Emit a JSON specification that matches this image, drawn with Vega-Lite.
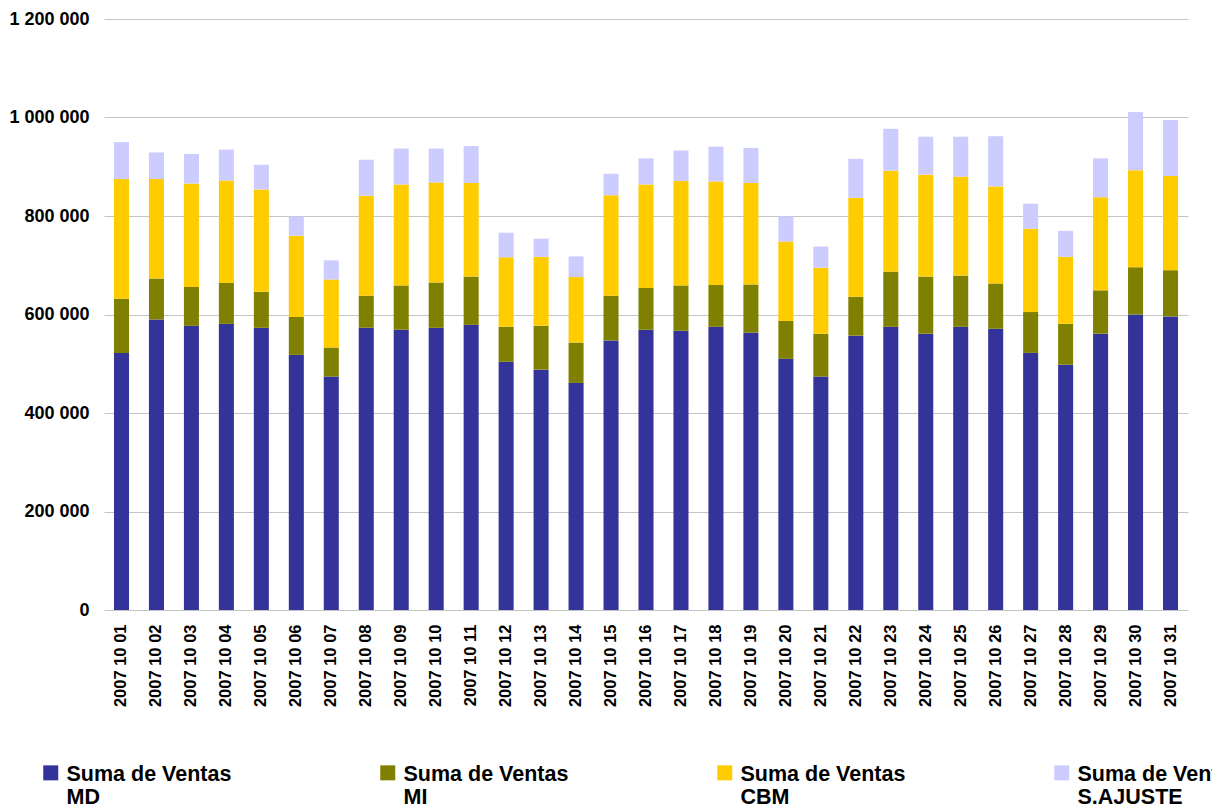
{
  "$schema": "https://vega.github.io/schema/vega-lite/v6.json",
  "width": 1084,
  "height": 591,
  "autosize": {"type": "none"},
  "padding": {"left": 104, "top": 19, "right": 24, "bottom": 202},
  "background": "white",
  "config": {"view": {"stroke": null}, "font": "Liberation Sans"},
  "data": {
    "values": [
      {"fecha": "2007 10 01", "serie": "MD", "ventas": 522000}, {"fecha": "2007 10 01", "serie": "MI", "ventas": 110000}, {"fecha": "2007 10 01", "serie": "CBM", "ventas": 243000}, {"fecha": "2007 10 01", "serie": "S.AJUSTE", "ventas": 75000},
      {"fecha": "2007 10 02", "serie": "MD", "ventas": 590000}, {"fecha": "2007 10 02", "serie": "MI", "ventas": 83000}, {"fecha": "2007 10 02", "serie": "CBM", "ventas": 202000}, {"fecha": "2007 10 02", "serie": "S.AJUSTE", "ventas": 54000},
      {"fecha": "2007 10 03", "serie": "MD", "ventas": 577000}, {"fecha": "2007 10 03", "serie": "MI", "ventas": 79000}, {"fecha": "2007 10 03", "serie": "CBM", "ventas": 210000}, {"fecha": "2007 10 03", "serie": "S.AJUSTE", "ventas": 60000},
      {"fecha": "2007 10 04", "serie": "MD", "ventas": 581000}, {"fecha": "2007 10 04", "serie": "MI", "ventas": 83000}, {"fecha": "2007 10 04", "serie": "CBM", "ventas": 208000}, {"fecha": "2007 10 04", "serie": "S.AJUSTE", "ventas": 63000},
      {"fecha": "2007 10 05", "serie": "MD", "ventas": 573000}, {"fecha": "2007 10 05", "serie": "MI", "ventas": 73000}, {"fecha": "2007 10 05", "serie": "CBM", "ventas": 208000}, {"fecha": "2007 10 05", "serie": "S.AJUSTE", "ventas": 50000},
      {"fecha": "2007 10 06", "serie": "MD", "ventas": 518000}, {"fecha": "2007 10 06", "serie": "MI", "ventas": 77000}, {"fecha": "2007 10 06", "serie": "CBM", "ventas": 165000}, {"fecha": "2007 10 06", "serie": "S.AJUSTE", "ventas": 39000},
      {"fecha": "2007 10 07", "serie": "MD", "ventas": 474000}, {"fecha": "2007 10 07", "serie": "MI", "ventas": 59000}, {"fecha": "2007 10 07", "serie": "CBM", "ventas": 138000}, {"fecha": "2007 10 07", "serie": "S.AJUSTE", "ventas": 39000},
      {"fecha": "2007 10 08", "serie": "MD", "ventas": 573000}, {"fecha": "2007 10 08", "serie": "MI", "ventas": 65000}, {"fecha": "2007 10 08", "serie": "CBM", "ventas": 203000}, {"fecha": "2007 10 08", "serie": "S.AJUSTE", "ventas": 73000},
      {"fecha": "2007 10 09", "serie": "MD", "ventas": 569000}, {"fecha": "2007 10 09", "serie": "MI", "ventas": 90000}, {"fecha": "2007 10 09", "serie": "CBM", "ventas": 205000}, {"fecha": "2007 10 09", "serie": "S.AJUSTE", "ventas": 73000},
      {"fecha": "2007 10 10", "serie": "MD", "ventas": 573000}, {"fecha": "2007 10 10", "serie": "MI", "ventas": 92000}, {"fecha": "2007 10 10", "serie": "CBM", "ventas": 203000}, {"fecha": "2007 10 10", "serie": "S.AJUSTE", "ventas": 69000},
      {"fecha": "2007 10 11", "serie": "MD", "ventas": 579000}, {"fecha": "2007 10 11", "serie": "MI", "ventas": 98000}, {"fecha": "2007 10 11", "serie": "CBM", "ventas": 190000}, {"fecha": "2007 10 11", "serie": "S.AJUSTE", "ventas": 75000},
      {"fecha": "2007 10 12", "serie": "MD", "ventas": 504000}, {"fecha": "2007 10 12", "serie": "MI", "ventas": 71000}, {"fecha": "2007 10 12", "serie": "CBM", "ventas": 141000}, {"fecha": "2007 10 12", "serie": "S.AJUSTE", "ventas": 50000},
      {"fecha": "2007 10 13", "serie": "MD", "ventas": 488000}, {"fecha": "2007 10 13", "serie": "MI", "ventas": 89000}, {"fecha": "2007 10 13", "serie": "CBM", "ventas": 140000}, {"fecha": "2007 10 13", "serie": "S.AJUSTE", "ventas": 37000},
      {"fecha": "2007 10 14", "serie": "MD", "ventas": 461000}, {"fecha": "2007 10 14", "serie": "MI", "ventas": 82000}, {"fecha": "2007 10 14", "serie": "CBM", "ventas": 133000}, {"fecha": "2007 10 14", "serie": "S.AJUSTE", "ventas": 42000},
      {"fecha": "2007 10 15", "serie": "MD", "ventas": 547000}, {"fecha": "2007 10 15", "serie": "MI", "ventas": 91000}, {"fecha": "2007 10 15", "serie": "CBM", "ventas": 204000}, {"fecha": "2007 10 15", "serie": "S.AJUSTE", "ventas": 44000},
      {"fecha": "2007 10 16", "serie": "MD", "ventas": 569000}, {"fecha": "2007 10 16", "serie": "MI", "ventas": 85000}, {"fecha": "2007 10 16", "serie": "CBM", "ventas": 210000}, {"fecha": "2007 10 16", "serie": "S.AJUSTE", "ventas": 53000},
      {"fecha": "2007 10 17", "serie": "MD", "ventas": 567000}, {"fecha": "2007 10 17", "serie": "MI", "ventas": 92000}, {"fecha": "2007 10 17", "serie": "CBM", "ventas": 212000}, {"fecha": "2007 10 17", "serie": "S.AJUSTE", "ventas": 62000},
      {"fecha": "2007 10 18", "serie": "MD", "ventas": 575000}, {"fecha": "2007 10 18", "serie": "MI", "ventas": 85000}, {"fecha": "2007 10 18", "serie": "CBM", "ventas": 210000}, {"fecha": "2007 10 18", "serie": "S.AJUSTE", "ventas": 71000},
      {"fecha": "2007 10 19", "serie": "MD", "ventas": 563000}, {"fecha": "2007 10 19", "serie": "MI", "ventas": 98000}, {"fecha": "2007 10 19", "serie": "CBM", "ventas": 206000}, {"fecha": "2007 10 19", "serie": "S.AJUSTE", "ventas": 71000},
      {"fecha": "2007 10 20", "serie": "MD", "ventas": 510000}, {"fecha": "2007 10 20", "serie": "MI", "ventas": 77000}, {"fecha": "2007 10 20", "serie": "CBM", "ventas": 161000}, {"fecha": "2007 10 20", "serie": "S.AJUSTE", "ventas": 51000},
      {"fecha": "2007 10 21", "serie": "MD", "ventas": 474000}, {"fecha": "2007 10 21", "serie": "MI", "ventas": 87000}, {"fecha": "2007 10 21", "serie": "CBM", "ventas": 134000}, {"fecha": "2007 10 21", "serie": "S.AJUSTE", "ventas": 43000},
      {"fecha": "2007 10 22", "serie": "MD", "ventas": 557000}, {"fecha": "2007 10 22", "serie": "MI", "ventas": 79000}, {"fecha": "2007 10 22", "serie": "CBM", "ventas": 201000}, {"fecha": "2007 10 22", "serie": "S.AJUSTE", "ventas": 79000},
      {"fecha": "2007 10 23", "serie": "MD", "ventas": 575000}, {"fecha": "2007 10 23", "serie": "MI", "ventas": 112000}, {"fecha": "2007 10 23", "serie": "CBM", "ventas": 205000}, {"fecha": "2007 10 23", "serie": "S.AJUSTE", "ventas": 85000},
      {"fecha": "2007 10 24", "serie": "MD", "ventas": 561000}, {"fecha": "2007 10 24", "serie": "MI", "ventas": 116000}, {"fecha": "2007 10 24", "serie": "CBM", "ventas": 207000}, {"fecha": "2007 10 24", "serie": "S.AJUSTE", "ventas": 77000},
      {"fecha": "2007 10 25", "serie": "MD", "ventas": 575000}, {"fecha": "2007 10 25", "serie": "MI", "ventas": 104000}, {"fecha": "2007 10 25", "serie": "CBM", "ventas": 201000}, {"fecha": "2007 10 25", "serie": "S.AJUSTE", "ventas": 81000},
      {"fecha": "2007 10 26", "serie": "MD", "ventas": 571000}, {"fecha": "2007 10 26", "serie": "MI", "ventas": 92000}, {"fecha": "2007 10 26", "serie": "CBM", "ventas": 197000}, {"fecha": "2007 10 26", "serie": "S.AJUSTE", "ventas": 102000},
      {"fecha": "2007 10 27", "serie": "MD", "ventas": 522000}, {"fecha": "2007 10 27", "serie": "MI", "ventas": 83000}, {"fecha": "2007 10 27", "serie": "CBM", "ventas": 169000}, {"fecha": "2007 10 27", "serie": "S.AJUSTE", "ventas": 51000},
      {"fecha": "2007 10 28", "serie": "MD", "ventas": 498000}, {"fecha": "2007 10 28", "serie": "MI", "ventas": 83000}, {"fecha": "2007 10 28", "serie": "CBM", "ventas": 136000}, {"fecha": "2007 10 28", "serie": "S.AJUSTE", "ventas": 53000},
      {"fecha": "2007 10 29", "serie": "MD", "ventas": 561000}, {"fecha": "2007 10 29", "serie": "MI", "ventas": 88000}, {"fecha": "2007 10 29", "serie": "CBM", "ventas": 189000}, {"fecha": "2007 10 29", "serie": "S.AJUSTE", "ventas": 79000},
      {"fecha": "2007 10 30", "serie": "MD", "ventas": 600000}, {"fecha": "2007 10 30", "serie": "MI", "ventas": 96000}, {"fecha": "2007 10 30", "serie": "CBM", "ventas": 197000}, {"fecha": "2007 10 30", "serie": "S.AJUSTE", "ventas": 118000},
      {"fecha": "2007 10 31", "serie": "MD", "ventas": 596000}, {"fecha": "2007 10 31", "serie": "MI", "ventas": 94000}, {"fecha": "2007 10 31", "serie": "CBM", "ventas": 191000}, {"fecha": "2007 10 31", "serie": "S.AJUSTE", "ventas": 114000}
    ]
  },
  "transform": [
    {"calculate": "indexof(['MD', 'MI', 'CBM', 'S.AJUSTE'], datum.serie)", "as": "orden"}
  ],
  "mark": {"type": "bar"},
  "encoding": {
    "x": {
      "field": "fecha",
      "type": "ordinal",
      "sort": null,
      "scale": {"paddingInner": 0.57, "paddingOuter": 0.285},
      "axis": {
        "title": null,
        "labelAngle": -90,
        "labelFont": "Liberation Sans",
        "labelFontWeight": "bold",
        "labelFontSize": 16.5,
        "labelColor": "black",
        "labelPadding": 14,
        "ticks": false,
        "domain": false,
        "grid": false
      }
    },
    "y": {
      "field": "ventas",
      "type": "quantitative",
      "stack": "zero",
      "scale": {"domain": [0, 1200000], "nice": false},
      "axis": {
        "title": null,
        "values": [0, 200000, 400000, 600000, 800000, 1000000, 1200000],
        "labelExpr": "replace(format(datum.value, ','), regexp(',', 'g'), ' ')",
        "labelFont": "Liberation Sans",
        "labelFontWeight": "bold",
        "labelFontSize": 18,
        "labelColor": "black",
        "labelPadding": 15,
        "ticks": false,
        "domain": false,
        "gridColor": "#c4c4c4",
        "gridWidth": 1
      }
    },
    "order": {"field": "orden", "type": "quantitative", "sort": "ascending"},
    "color": {
      "field": "serie",
      "type": "nominal",
      "sort": ["MD", "MI", "CBM", "S.AJUSTE"],
      "scale": {
        "domain": ["MD", "MI", "CBM", "S.AJUSTE"],
        "range": ["#333399", "#808000", "#FFCC00", "#CCCCFF"]
      },
      "legend": {
        "title": null,
        "orient": "none",
        "direction": "horizontal",
        "columns": 4,
        "legendX": -64,
        "legendY": 751,
        "symbolType": "M-1,-2.07H1V-0.07H-1Z",
        "symbolSize": 225,
        "symbolStrokeWidth": 0,
        "symbolOpacity": 1,
        "labelFont": "Liberation Sans",
        "labelFontSize": 21.5,
        "labelFontWeight": "bold",
        "labelColor": "black",
        "labelOffset": 5,
        "labelLimit": 0,
        "columnPadding": 145,
        "labelBaseline": "alphabetic",
        "labelExpr": "['Suma de Ventas', datum.label]"
      }
    }
  }
}
